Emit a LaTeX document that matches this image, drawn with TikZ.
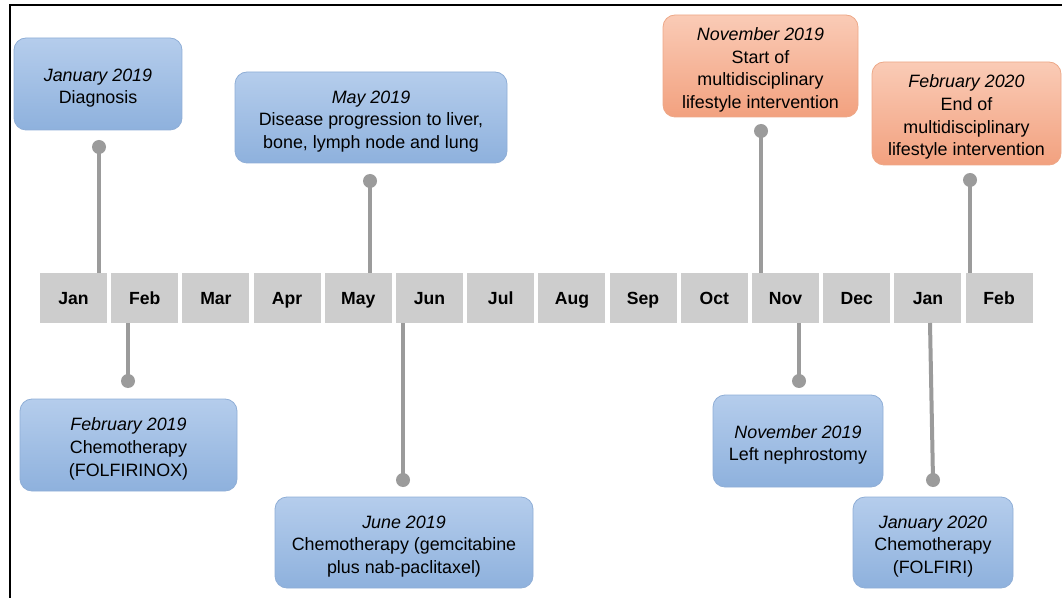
\documentclass[tikz,border=0pt]{standalone}
\usepackage{fontspec}
\setmainfont{Liberation Sans}
\definecolor{bluetop}{HTML}{B5CDEC}
\definecolor{bluebot}{HTML}{8EB1DD}
\definecolor{bluebd}{HTML}{8FAED6}
\definecolor{ortop}{HTML}{FACBB6}
\definecolor{orbot}{HTML}{F2A17F}
\definecolor{orbd}{HTML}{EDA888}
\definecolor{mgray}{HTML}{CDCDCD}
\definecolor{cgray}{HTML}{9B9B9B}
\newcommand\evgap{\rule{0pt}{15.5pt}}
\begin{document}
\begin{tikzpicture}[x=0.75pt,y=-0.75pt,
  evb/.style={rounded corners=9pt, draw=bluebd, line width=0.6pt, top color=bluetop, bottom color=bluebot,
    align=center, font=\fontsize{13.4}{17}\selectfont, inner sep=0pt},
  evo/.style={evb, draw=orbd, top color=ortop, bottom color=orbot},
  mon/.style={fill=mgray, minimum width=50.25pt, minimum height=37.5pt, inner sep=0pt,
    text height=9.5pt, text depth=0pt,
    font=\bfseries\fontsize{13.2}{15}\selectfont},
  con/.style={draw=cgray, line width=3pt},
  tdot/.style={circle, fill=cgray, minimum size=10.5pt, inner sep=0pt}]
\useasboundingbox (0,0) rectangle (1062,598);
\draw[line width=1.5pt] (10,598) -- (10,5) -- (1062,5);

% month boxes
\foreach \m [count=\i] in {Jan,Feb,Mar,Apr,May,Jun,Jul,Aug,Sep,Oct,Nov,Dec,Jan,Feb}
  \node[mon] (m\i) at ({73.5+71.2*(\i-1)},298) {\m};

% event boxes
\node[evb, minimum width=0.75*168pt, minimum height=0.75*92pt] (b1) at (98,84)
  {\evgap\textit{January 2019}\\Diagnosis};
\node[evb, minimum width=0.75*217pt, minimum height=0.75*92pt] (b2) at (128.5,445)
  {\evgap\textit{February 2019}\\Chemotherapy\\(FOLFIRINOX)};
\node[evb, minimum width=0.75*272pt, minimum height=0.75*91pt] (b3) at (371,117.5)
  {\evgap\textit{May 2019}\\Disease progression to liver,\\bone, lymph node and lung};
\node[evb, minimum width=0.75*258pt, minimum height=0.75*91pt] (b4) at (404,542.5)
  {\evgap\textit{June 2019}\\Chemotherapy (gemcitabine\\plus nab-paclitaxel)};
\node[evo, minimum width=0.75*195pt, minimum height=0.75*102pt] (b5) at (760.5,66)
  {\evgap\textit{November 2019}\\Start of\\multidisciplinary\\lifestyle intervention};
\node[evo, minimum width=0.75*189pt, minimum height=0.75*103pt] (b6) at (966.5,113.5)
  {\evgap\textit{February 2020}\\End of\\multidisciplinary\\lifestyle intervention};
\node[evb, minimum width=0.75*170pt, minimum height=0.75*92pt] (b7) at (798,441)
  {\evgap\textit{November 2019}\\Left nephrostomy};
\node[evb, minimum width=0.75*160pt, minimum height=0.75*91pt] (b8) at (933,542.5)
  {\evgap\textit{January 2020}\\Chemotherapy\\(FOLFIRI)};

% dots
\node[tdot] (d1) at (99,147) {};
\node[tdot] (d2) at (128,381) {};
\node[tdot] (d3) at (370,181) {};
\node[tdot] (d4) at (403,480) {};
\node[tdot] (d5) at (761,131) {};
\node[tdot] (d6) at (970,180) {};
\node[tdot] (d7) at (799,381) {};
\node[tdot] (d8) at (933,480) {};
\coordinate (j20top) at (930,323);

% connectors
\draw[con] (d1.center) -- (d1 |- m1.north);
\draw[con] (d2.center) -- (d2 |- m2.south);
\draw[con] (d3.center) -- (d3 |- m5.north);
\draw[con] (d4.center) -- (d4 |- m6.south);
\draw[con] (d5.center) -- (d5 |- m11.north);
\draw[con] (d6.center) -- (d6 |- m14.north);
\draw[con] (d7.center) -- (d7 |- m11.south);
\draw[con] (d8.center) -- (j20top);
\end{tikzpicture}
\end{document}
